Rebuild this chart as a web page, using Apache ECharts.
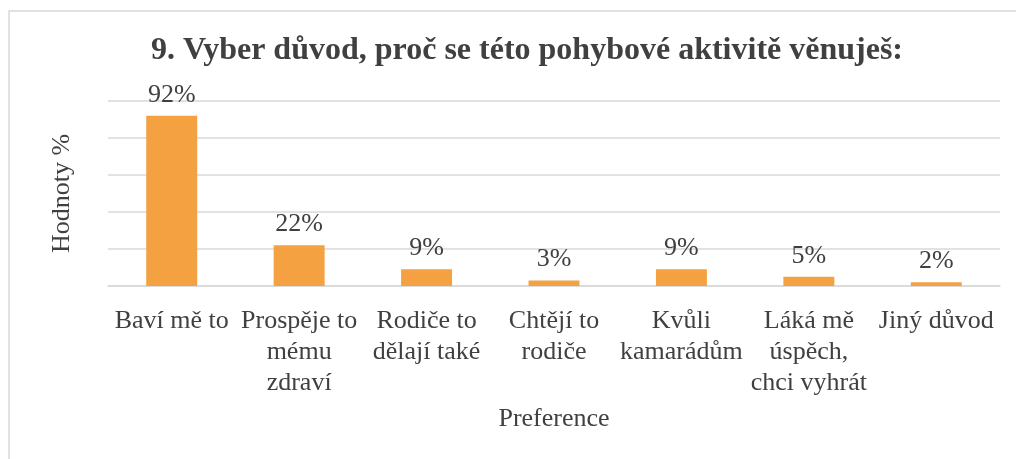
<!DOCTYPE html>
<html>
<head>
<meta charset="utf-8">
<script src="https://cdn.jsdelivr.net/npm/echarts@6/dist/echarts.min.js"></script>
<style>
  html, body { margin: 0; padding: 0; background: #fff; }
  #chart { width: 1016px; height: 459px; }
</style>
</head>
<body>
<div id="chart"></div>
<script>
    // data
    let categories = ['Baví mě to', 'Prospěje to\nmému\nzdraví', 'Rodiče to\ndělají také', 'Chtějí to\nrodiče',
        'Kvůli\nkamarádům', 'Láká mě\núspěch,\nchci vyhrát', 'Jiný důvod'];
    let values = [92, 22, 9, 3, 9, 5, 2];

    let fontFamily = '"Liberation Serif", "Times New Roman", serif';
    let textColor = '#404040';
    let gridColor = '#d9d9d9';

    let myChart = echarts.init(document.getElementById('chart'));

    let option = {
        animation: false,
        textStyle: { fontFamily: fontFamily },
        title: {
            text: '9. Vyber důvod, proč se této pohybové aktivitě věnuješ:',
            left: 522,
            top: 30,
            textAlign: 'center',
            textStyle: {
                fontFamily: fontFamily,
                fontSize: 32,
                fontWeight: 'bold',
                color: textColor
            }
        },
        graphic: [{
            type: 'rect',
            shape: { x: 9, y: 11, width: 1100, height: 600 },
            style: { fill: 'none', stroke: gridColor, lineWidth: 1.5 },
            silent: true
        }],
        grid: { left: 108, right: 16, top: 101, bottom: 173 },
        xAxis: {
            type: 'category',
            data: categories,
            name: 'Preference',
            nameLocation: 'middle',
            nameGap: 120,
            nameTextStyle: { fontSize: 26, color: textColor, fontFamily: fontFamily },
            axisLine: { lineStyle: { color: gridColor, width: 1.5 } },
            axisTick: { show: false },
            axisLabel: {
                interval: 0,
                fontSize: 26,
                lineHeight: 31,
                color: textColor,
                margin: 20,
                fontFamily: fontFamily
            }
        },
        yAxis: {
            type: 'value',
            min: 0,
            max: 100,
            interval: 20,
            name: 'Hodnoty %',
            nameLocation: 'middle',
            nameGap: 33,
            nameTextStyle: { fontSize: 26, color: textColor, fontFamily: fontFamily },
            axisLabel: { show: false },
            axisLine: { show: false },
            axisTick: { show: false },
            splitLine: { lineStyle: { color: gridColor, width: 1.5 } }
        },
        series: [{
            type: 'bar',
            data: values,
            barCategoryGap: '60%',
            itemStyle: { color: '#F4A142' },
            label: {
                show: true,
                position: 'top',
                distance: 8,
                formatter: '{c}%',
                fontSize: 26,
                color: textColor,
                fontFamily: fontFamily
            }
        }]
    };

    myChart.setOption(option);
</script>
</body>
</html>
